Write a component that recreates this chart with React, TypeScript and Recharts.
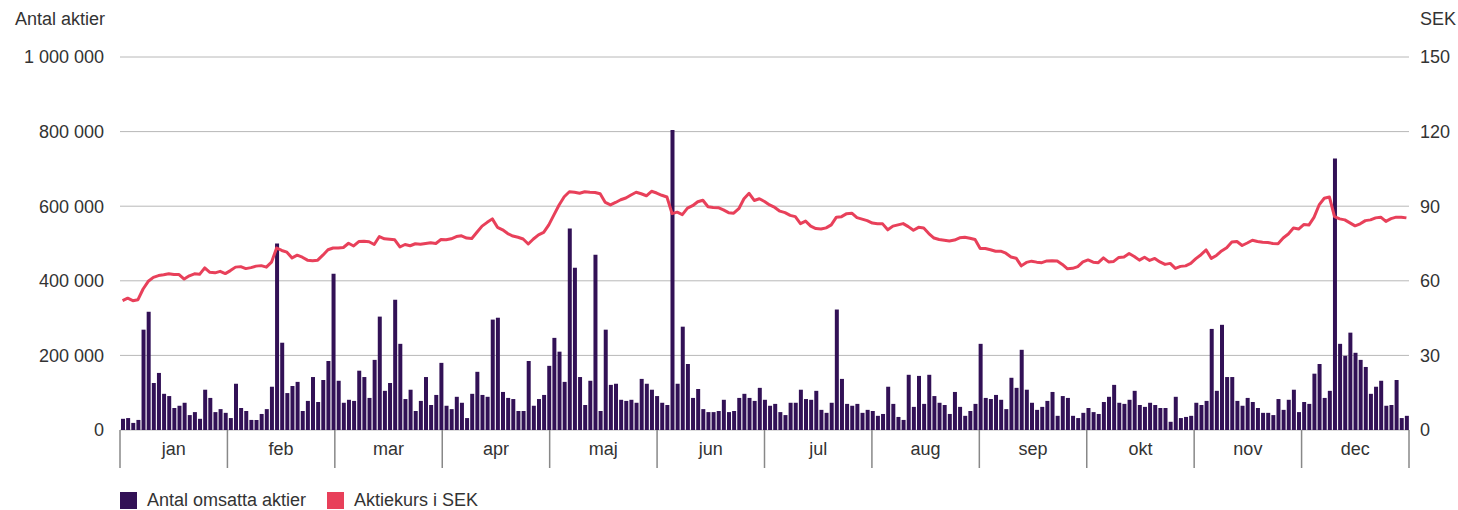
import { ComposedChart, Bar, Line, XAxis, YAxis, CartesianGrid } from 'recharts';

// traded shares per day, in thousands
const volumeK = [
  30, 32, 19, 27, 269, 317, 126, 153, 97, 91, 59, 65, 73, 40, 48, 30, 108, 86, 48, 56, 46, 32, 124, 59, 51, 27, 27, 43, 56, 116, 500, 234,
  99, 118, 129, 51, 78, 142, 75, 134, 185, 419, 132, 73, 81, 78, 159, 142, 86, 188, 304, 105, 126, 349, 231, 83, 108, 51, 78, 142, 67, 94, 180, 65,
  56, 89, 73, 32, 97, 156, 94, 89, 296, 301, 102, 86, 83, 51, 51, 185, 65, 83, 94, 172, 247, 210, 129, 540, 435, 142, 67, 132, 470, 51, 269,
  121, 124, 81, 78, 81, 73, 137, 124, 108, 91, 73, 67, 804, 124, 277, 177, 86, 110, 56, 48, 48, 51, 81, 48, 51, 86, 97, 86, 78, 113, 81,
  65, 70, 48, 40, 73, 73, 108, 83, 81, 105, 54, 46, 73, 323, 137, 70, 65, 70, 46, 54, 51, 38, 43, 116, 70, 35, 27, 148, 62, 145, 70, 148,
  91, 73, 67, 43, 102, 62, 38, 51, 70, 231, 86, 83, 94, 81, 56, 140, 113, 215, 108, 73, 54, 62, 78, 102, 38, 91, 86, 38, 32, 46, 59, 48,
  43, 75, 89, 121, 73, 70, 81, 105, 67, 62, 73, 67, 59, 59, 22, 89, 32, 35, 38, 73, 67, 78, 271, 105, 282, 142, 142, 78, 65, 86, 75,
  59, 46, 46, 40, 83, 54, 81, 108, 48, 75, 70, 151, 177, 86, 105, 728, 231, 199, 261, 207, 188, 169, 97, 116, 132, 65, 67, 134, 32, 38,
];

// share price, SEK
const priceSek = [
  52.0, 53.0, 52.0, 52.4, 56.7, 59.8, 61.4, 62.1, 62.4, 62.8, 62.5, 62.5, 60.7, 62.0, 62.8, 62.6, 65.2, 63.4, 63.2, 63.8, 62.9, 64.1, 65.5, 65.7, 64.9, 65.3, 65.9, 66.1, 65.5, 67.5, 73.2, 72.2,
  71.5, 69.2, 70.3, 69.5, 68.3, 68.1, 68.3, 70.3, 72.5, 73.2, 73.2, 73.4, 75.1, 74.0, 75.8, 75.9, 75.7, 74.6, 77.8, 76.9, 76.7, 76.5, 73.6, 74.6, 74.1, 74.9, 74.7, 75.0, 75.3, 75.0, 76.6, 76.5,
  76.9, 77.8, 78.1, 77.2, 77.0, 79.5, 82.0, 83.5, 84.9, 81.5, 80.5, 79.0, 78.0, 77.5, 76.8, 74.8, 76.8, 78.5, 79.5, 82.5, 86.5, 90.5, 93.8, 95.8, 95.6, 95.2, 95.8, 95.6, 95.5, 95.0, 91.5,
  90.5, 91.5, 92.6, 93.3, 94.5, 95.6, 95.0, 94.2, 96.0, 95.3, 94.4, 93.7, 87.0, 87.6, 86.6, 89.2, 90.2, 91.8, 92.4, 89.8, 89.5, 89.4, 88.5, 87.4, 87.2, 89.0, 93.0, 95.2, 92.3, 93.0, 91.9,
  90.5, 89.5, 88.0, 87.4, 86.3, 85.8, 83.0, 84.0, 82.0, 81.0, 80.8, 81.3, 82.5, 85.6, 85.8, 87.0, 87.2, 85.4, 84.8, 84.2, 83.2, 82.9, 82.9, 80.5, 82.0, 82.5, 83.0, 81.8, 80.3, 81.5, 81.2, 79.0,
  77.2, 76.6, 76.3, 76.0, 76.4, 77.3, 77.5, 77.1, 76.6, 73.0, 73.0, 72.5, 71.9, 71.9, 71.1, 69.6, 69.1, 66.0, 67.4, 67.9, 67.5, 67.3, 68.0, 68.1, 68.0, 66.6, 64.8, 65.0, 65.7, 67.6, 68.4, 67.5,
  67.3, 69.2, 67.6, 67.8, 69.4, 69.6, 71.0, 69.8, 68.3, 69.5, 68.2, 69.0, 67.6, 66.6, 67.0, 65.0, 65.8, 66.0, 67.0, 68.9, 70.5, 72.4, 69.0, 70.2, 72.0, 73.3, 75.6, 75.8, 74.2, 75.2, 76.3,
  75.8, 75.5, 75.4, 75.0, 74.9, 77.2, 78.8, 81.2, 80.8, 82.6, 82.4, 85.5, 90.5, 93.2, 93.7, 85.8, 84.9, 84.5, 83.3, 82.1, 82.9, 84.2, 84.5, 85.3, 85.6, 83.9, 85.0, 85.6, 85.6, 85.3,
];

const months = ['jan', 'feb', 'mar', 'apr', 'maj', 'jun', 'jul', 'aug', 'sep', 'okt', 'nov', 'dec'];
const volumeTicks = [0, 200, 400, 600, 800, 1000];
const priceTicks = [0, 30, 60, 90, 120, 150];

const N = volumeK.length;
const data = volumeK.map((v, i) => ({ pos: i + 0.5, volume: v, price: priceSek[i] }));
const monthTicks = Array.from({ length: 13 }, (_, k) => (k * N) / 12);

const W = 1458;
const H = 510;
const LEFT = 120;
const RIGHT_W = 49;
const monthW = (W - LEFT - RIGHT_W) / 12;

const PURPLE = '#321156';
const RED = '#e8405a';
const TEXT = '#333';
const FONT = '"Liberation Sans", Arial, sans-serif';
const FS = 18;

const fmtSpace = (n: number) => String(n).replace(/\B(?=(\d{3})+(?!\d))/g, ' ');

const MonthTick = (props: any) => {
  const { x, y, payload } = props;
  const k = Math.round(payload.value / (N / 12));
  if (k >= 12) return null;
  return (
    <text x={x + monthW / 2} y={y - 21} dy="0.355em" textAnchor="middle" fill={TEXT} fontSize={FS} fontFamily={FONT}>
      {months[k]}
    </text>
  );
};

export default function App() {
  return (
    <div style={{ position: 'absolute', left: 0, top: 0, width: W, height: H, fontFamily: FONT, color: TEXT }}>
      <ComposedChart width={W} height={H} data={data} margin={{ top: 57, right: 0, bottom: 40, left: 0 }}>
        <CartesianGrid yAxisId="vol" vertical={false} stroke="#b8b8b8" />
        <XAxis
          type="number"
          dataKey="pos"
          domain={[0, N]}
          ticks={monthTicks}
          interval={0}
          height={40}
          axisLine={false}
          tickSize={38}
          tickLine={{ stroke: '#888', strokeWidth: 1.5 }}
          tick={<MonthTick />}
        />
        <YAxis
          yAxisId="vol"
          domain={[0, 1000]}
          ticks={volumeTicks}
          width={LEFT}
          axisLine={false}
          tickLine={false}
          tickMargin={10}
          tickFormatter={(v: number) => fmtSpace(v * 1000)}
          tick={{ fill: TEXT, fontSize: FS, fontFamily: FONT }}
        />
        <YAxis
          yAxisId="px"
          orientation="right"
          domain={[0, 150]}
          ticks={priceTicks}
          width={RIGHT_W}
          axisLine={false}
          tickLine={false}
          tickMargin={5}
          tick={{ fill: TEXT, fontSize: FS, fontFamily: FONT }}
        />
        <Bar yAxisId="vol" dataKey="volume" fill={PURPLE} barSize={4} isAnimationActive={false} />
        <Line
          yAxisId="px"
          dataKey="price"
          type="linear"
          stroke={RED}
          strokeWidth={3}
          dot={false}
          strokeLinejoin="round"
          isAnimationActive={false}
        />
      </ComposedChart>

      <div style={{ position: 'absolute', left: 15, top: 9, fontSize: FS }}>Antal aktier</div>
      <div style={{ position: 'absolute', left: 1420, top: 9, fontSize: FS }}>SEK</div>

      <div style={{ position: 'absolute', left: 120, top: 490, display: 'flex', alignItems: 'center', fontSize: FS }}>
        <span style={{ width: 17, height: 17, background: PURPLE, display: 'inline-block', marginRight: 10 }} />
        <span style={{ marginRight: 21 }}>Antal omsatta aktier</span>
        <span style={{ width: 17, height: 17, background: RED, display: 'inline-block', marginRight: 10 }} />
        <span>Aktiekurs i SEK</span>
      </div>
    </div>
  );
}
